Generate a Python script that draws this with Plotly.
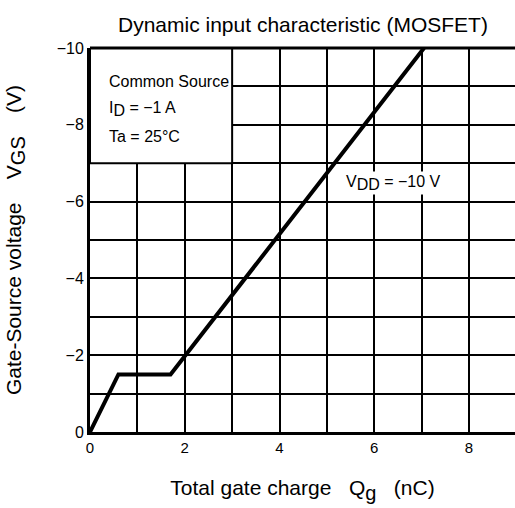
import plotly.graph_objects as go

# Data
qg = [0, 0.6, 1.7, 7.05]          # nC
vgs = [0, -1.5, -1.5, -10]        # V
x_ticks = [0, 2, 4, 6, 8]
x_ticktext = ["0", "2", "4", "6", "8"]
y_ticks = [0, -2, -4, -6, -8, -10]
y_ticktext = ["0", "\u22122", "\u22124", "\u22126", "\u22128", "\u221210"]

FONT = "Liberation Sans, Arial, sans-serif"

def sub(t, size):
    return "<sub><span style='font-size:%dpx'>%s</span></sub>" % (size, t)

fig = go.Figure()
fig.add_trace(go.Scatter(x=qg, y=vgs, mode="lines",
                         line=dict(color="black", width=4),
                         showlegend=False, hoverinfo="skip"))

# condition box (covers grid)
fig.add_shape(type="rect", x0=0, x1=3, y0=-7, y1=-10, xref="x", yref="y",
              fillcolor="white", line=dict(color="black", width=2), layer="above")
# top border
fig.add_shape(type="line", x0=0, x1=1, xref="paper", y0=1, y1=1, yref="paper",
              line=dict(color="black", width=3), layer="above")

box_lines = ["Common Source", "I" + sub("D", 16) + " = \u22121 A", "Ta = 25\u00b0C"]
box_y = [-9.12, -8.4, -7.7]
for t, yy in zip(box_lines, box_y):
    fig.add_annotation(x=0.36, y=yy, xref="x", yref="y", text=t, showarrow=False,
                       xanchor="left", yanchor="middle",
                       font=dict(family=FONT, size=16, color="black"))

fig.add_annotation(x=6.4, y=-6.48, xref="x", yref="y",
                   text="V" + sub("DD", 16) + " = \u221210 V", showarrow=False,
                   bgcolor="white", font=dict(family=FONT, size=16, color="black"))

fig.add_annotation(x=0.5, y=1, xref="paper", yref="paper", yanchor="bottom",
                   xshift=0, yshift=10, showarrow=False,
                   text="Dynamic input characteristic (MOSFET)",
                   font=dict(family=FONT, size=21, color="black"))

fig.update_layout(
    width=515, height=508,
    margin=dict(l=90, r=0, t=48, b=76),
    paper_bgcolor="white", plot_bgcolor="white",
    font=dict(family=FONT, size=16, color="black"),
    xaxis=dict(range=[0, 8.97], showgrid=True,
               gridcolor="black", gridwidth=1.5, zeroline=False,
               showline=True, linecolor="black", linewidth=3,
               tickmode="array", tickvals=list(range(0, 9)),
               ticktext=[x_ticktext[x_ticks.index(v)] if v in x_ticks else "" for v in range(0, 9)],
               ticks="", tickfont=dict(size=15),
               title=dict(text="Total gate charge   Q" + sub("g", 20) + "   (nC)",
                          font=dict(size=21), standoff=26)),
    yaxis=dict(range=[0, -10], showgrid=True,
               gridcolor="black", gridwidth=1.5, zeroline=False,
               showline=True, linecolor="black", linewidth=3,
               tickmode="array", tickvals=list(range(0, -11, -1)),
               ticktext=[y_ticktext[y_ticks.index(v)] if v in y_ticks else "" for v in range(0, -11, -1)],
               ticks="", tickfont=dict(size=16),
               title=dict(text="Gate-Source voltage    V" + sub("GS", 20) + "    (V)",
                          font=dict(size=21), standoff=30)),
)

fig.write_html("out.html")
